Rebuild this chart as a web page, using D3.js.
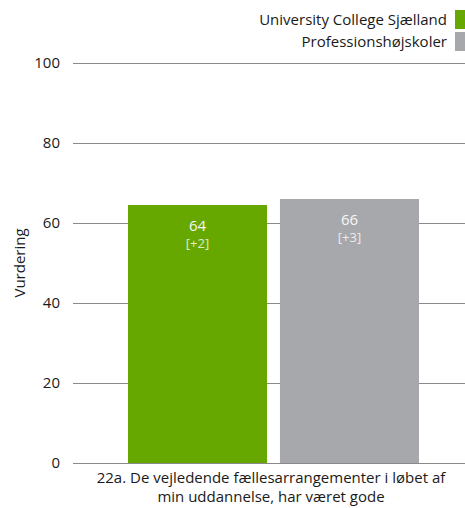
<!DOCTYPE html>
<html>
<head>
<meta charset="utf-8">
<script src="https://cdn.jsdelivr.net/npm/d3@7"></script>
<style>
  body { margin: 0; background: #fff; }
  text { font-family: "Open Sans", sans-serif; }
</style>
</head>
<body>
<div id="chart"></div>
<script>
// ---- DATA ----
const series = ["University College Sjælland", "Professionshøjskoler"];
const values = [64.5, 66];
const valueLabels = ["64", "66"];
const diffLabels = ["[+2]", "[+3]"];
const colors = ["#66a800", "#a7a8ab"];
const yTicks = [0, 20, 40, 60, 80, 100];
const categoryLines = ["22a. De vejledende fællesarrangementer i løbet af", "min uddannelse, har været gode"];

const width = 465;
const height = 508;
const margin = { top: 63, right: 0, bottom: 45, left: 73 };

const svg = d3.select("#chart")
  .append("svg")
  .attr("width", width)
  .attr("height", height);

// ---- SCALES ----
const y = d3.scaleLinear()
  .domain([0, 100])
  .range([height - margin.bottom, margin.top]);

const x = d3.scaleBand()
  .domain(series)
  .range([128, 419])
  .paddingInner(0.085);

// ---- GRID ----
const grid = svg.append("g")
  .attr("transform", `translate(${margin.left},0)`)
  .call(d3.axisLeft(y).tickValues(yTicks).tickSize(-(width - margin.left)).tickPadding(13));
grid.select(".domain").remove();
grid.selectAll(".tick line").attr("stroke", "#8a8a8a").attr("stroke-width", 1);
grid.selectAll(".tick text").attr("font-size", 15).attr("fill", "#1a1a1a");

// ---- BARS ----
svg.selectAll("rect.bar")
  .data(values)
  .enter()
  .append("rect")
  .attr("class", "bar")
  .attr("x", (d, i) => x(series[i]))
  .attr("y", d => y(d))
  .attr("width", x.bandwidth())
  .attr("height", d => y(0) - y(d))
  .attr("fill", (d, i) => colors[i]);

// ---- VALUE LABELS ----
svg.selectAll("text.val")
  .data(values)
  .enter()
  .append("text")
  .attr("class", "val")
  .attr("x", (d, i) => x(series[i]) + x.bandwidth() / 2)
  .attr("y", d => y(d) + 26)
  .attr("text-anchor", "middle")
  .attr("font-size", 15)
  .attr("fill", "#f6f6f6")
  .text((d, i) => valueLabels[i]);

svg.selectAll("text.diff")
  .data(values)
  .enter()
  .append("text")
  .attr("class", "diff")
  .attr("x", (d, i) => x(series[i]) + x.bandwidth() / 2)
  .attr("y", d => y(d) + 43)
  .attr("text-anchor", "middle")
  .attr("font-size", 13)
  .attr("fill", "#ffffff")
  .attr("fill-opacity", 0.8)
  .text((d, i) => diffLabels[i]);

// ---- X LABEL ----
svg.append("g")
  .selectAll("text")
  .data(categoryLines)
  .enter()
  .append("text")
  .attr("x", 271)
  .attr("y", (d, i) => 483 + i * 19)
  .attr("text-anchor", "middle")
  .attr("font-size", 15)
  .attr("fill", "#1a1a1a")
  .text(d => d);

// ---- Y TITLE ----
svg.append("text")
  .attr("transform", `translate(25,${y(50)}) rotate(-90)`)
  .attr("text-anchor", "middle")
  .attr("font-size", 15)
  .attr("fill", "#1a1a1a")
  .text("Vurdering");

// ---- LEGEND ----
const legend = svg.append("g");
series.forEach((s, i) => {
  legend.append("rect")
    .attr("x", 455)
    .attr("y", 10 + i * 22)
    .attr("width", 12)
    .attr("height", 19)
    .attr("fill", colors[i]);
  legend.append("text")
    .attr("x", 447)
    .attr("y", 25 + i * 22)
    .attr("text-anchor", "end")
    .attr("font-size", 15)
    .attr("fill", "#1a1a1a")
    .text(s);
});
</script>
</body>
</html>
